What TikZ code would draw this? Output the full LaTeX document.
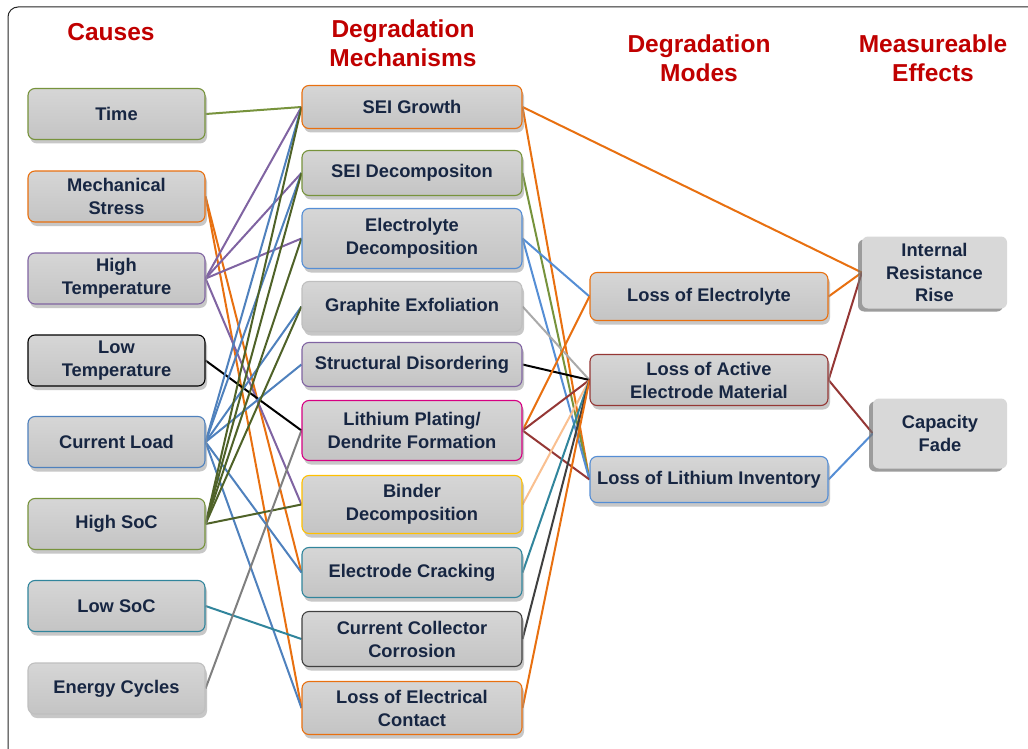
\documentclass[tikz,border=0pt]{standalone}
\usepackage{fontspec}
\setmainfont{Liberation Sans}
\usetikzlibrary{shadows}

\definecolor{txt}{RGB}{23,38,66}
\definecolor{hdr}{RGB}{192,0,0}
\definecolor{cgreen}{RGB}{119,147,60}
\definecolor{corange}{RGB}{232,112,16}
\definecolor{cpurple}{RGB}{128,100,162}
\definecolor{cblue}{RGB}{79,129,189}
\definecolor{cblueb}{RGB}{85,142,213}
\definecolor{colive}{RGB}{79,98,40}
\definecolor{cteal}{RGB}{49,133,156}
\definecolor{cgray}{RGB}{127,127,127}
\definecolor{clgray}{RGB}{170,170,170}
\definecolor{cmagenta}{RGB}{214,0,130}
\definecolor{cgold}{RGB}{255,192,0}
\definecolor{cdark}{RGB}{64,64,64}
\definecolor{cbrown}{RGB}{149,55,53}
\definecolor{cpeach}{RGB}{250,192,144}
\definecolor{boxtop}{RGB}{214,214,214}
\definecolor{boxbot}{RGB}{196,196,196}
\definecolor{effgray}{RGB}{216,216,216}

\pgfdeclarelayer{paper}
\pgfdeclarelayer{background}
\pgfsetlayers{paper,background,main}

\tikzset{
  box/.style={rounded corners=7pt, draw, line width=1.1pt,
    top color=boxtop, bottom color=boxbot,
    drop shadow={shadow xshift=2pt, shadow yshift=-4pt, fill=black!40, opacity=0.55},
    font=\bfseries\fontsize{18.3}{23}\selectfont, text=txt, align=center, inner sep=0pt},
  causebox/.style={box, minimum width=177pt, minimum height=51pt},
  mechbox/.style={box, minimum width=220pt},
  modebox/.style={box, minimum width=238pt},
  effbox/.style={rounded corners=6pt, fill=effgray,
    drop shadow={shadow xshift=-4pt, shadow yshift=-3pt, fill=black!55, opacity=0.7},
    font=\bfseries\fontsize{18.3}{22.5}\selectfont, text=txt, align=center, inner sep=0pt},
  header/.style={font=\bfseries\fontsize{24.5}{29}\selectfont, text=hdr, align=center},
  conn/.style={line width=2pt},
}

\begin{document}
\begin{tikzpicture}[x=1pt, y=-1pt]
\useasboundingbox (0,0) rectangle (1028,749);
\begin{pgfonlayer}{paper}
\fill[white] (0,0) rectangle (1028,749);
\end{pgfonlayer}
\begin{scope}
\clip (0,0) rectangle (1028,749);
\draw[line width=1pt, black!85, rounded corners=10pt] (8,7) rectangle (1050,770);
\end{scope}

% column headings
\node[header] (hcause) at (111,32) {Causes};
\node[header] (hmech) at (403,43) {Degradation\\Mechanisms};
\node[header] (hmode) at (699,58) {Degradation\\Modes};
\node[header] (heff) at (933,58) {Measureable\\Effects};

% causes
\node[causebox, draw=cgreen] (time) at (116.5,114) {Time};
\node[causebox, draw=corange] (mech) at (116.5,196.5) {Mechanical\\Stress};
\node[causebox, draw=cpurple] (htemp) at (116.5,278.5) {High\\Temperature};
\node[causebox, draw=black] (ltemp) at (116.5,360.5) {Low\\Temperature};
\node[causebox, draw=cblue] (cload) at (116.5,442) {Current Load};
\node[causebox, draw=cgreen] (hsoc) at (116.5,524) {High SoC};
\node[causebox, draw=cteal] (lsoc) at (116.5,606) {Low SoC};
\node[causebox, draw=black!25] (ecyc) at (116.5,688.5) {Energy Cycles};

% degradation mechanisms
\node[mechbox, draw=corange, minimum height=43pt] (sei) at (412,107) {SEI Growth};
\node[mechbox, draw=cgreen, minimum height=45pt] (seid) at (412,173) {SEI Decompositon};
\node[mechbox, draw=cblueb, minimum height=60pt] (elec) at (412,238.5) {Electrolyte\\Decomposition};
\node[mechbox, draw=black!25, minimum height=50pt] (graph) at (412,306.5) {Graphite Exfoliation};
\node[mechbox, draw=cpurple, minimum height=44pt] (struct) at (412,364.5) {Structural Disordering};
\node[mechbox, draw=cmagenta, minimum height=60pt] (plat) at (412,430.5) {Lithium Plating/\\Dendrite Formation};
\node[mechbox, draw=cgold, minimum height=58pt] (binder) at (412,504.5) {Binder\\Decomposition};
\node[mechbox, draw=cteal, minimum height=50pt] (crack) at (412,572.5) {Electrode Cracking};
\node[mechbox, draw=cdark, minimum height=55pt] (ccc) at (412,639) {Current Collector\\Corrosion};
\node[mechbox, draw=corange, minimum height=53pt] (lec) at (412,708) {Loss of Electrical\\Contact};

% degradation modes
\node[modebox, draw=corange, minimum height=48pt] (loe) at (709,296.5) {Loss of Electrolyte};
\node[modebox, draw=cbrown, minimum height=51pt] (lam) at (709,380) {Loss of Active\\Electrode Material};
\node[modebox, draw=cblueb, minimum height=46pt] (lli) at (709,479.5) {Loss of Lithium Inventory};

% measurable effects
\node[effbox, minimum width=145pt, minimum height=72pt] (irr) at (934.5,272.5) {Internal\\Resistance\\Rise};
\node[effbox, minimum width=134pt, minimum height=70pt] (cf) at (940,433.5) {Capacity\\Fade};

\begin{pgfonlayer}{background}
% causes -> mechanisms
\draw[conn, cgreen] (time.east) -- (sei.west);
\draw[conn, corange] (mech.east) -- (crack.west);
\draw[conn, corange] (mech.east) -- (lec.west);
\foreach \m in {sei, seid, elec, binder}
  \draw[conn, cpurple] (htemp.east) -- (\m.west);
\draw[conn, black] (ltemp.east) -- (plat.west);
\foreach \m in {sei, seid, graph, struct, crack, lec}
  \draw[conn, cblue] (cload.east) -- (\m.west);
\foreach \m in {sei, seid, elec, graph, binder}
  \draw[conn, colive] (hsoc.east) -- (\m.west);
\draw[conn, cteal] (lsoc.east) -- (ccc.west);
\draw[conn, cgray] (ecyc.east) -- (plat.west);

% mechanisms -> modes
\draw[conn, corange] (sei.east) -- (irr.west);
\draw[conn, corange] (sei.east) -- (lli.west);
\draw[conn, cgreen] (seid.east) -- (lli.west);
\draw[conn, cblueb] (elec.east) -- (loe.west);
\draw[conn, cblueb] (elec.east) -- (lli.west);
\draw[conn, clgray] (graph.east) -- (lam.west);
\draw[conn, black] (struct.east) -- (lam.west);
\draw[conn, corange] (plat.east) -- (loe.west);
\draw[conn, cbrown] (plat.east) -- (lam.west);
\draw[conn, cbrown] (plat.east) -- (lli.west);
\draw[conn, cpeach] (binder.east) -- (lam.west);
\draw[conn, cteal] (crack.east) -- (lam.west);
\draw[conn, cdark] (ccc.east) -- (lam.west);
\draw[conn, corange] (lec.east) -- (lam.west);

% modes -> effects
\draw[conn, corange] (loe.east) -- (irr.west);
\draw[conn, cbrown] (lam.east) -- (irr.west);
\draw[conn, cbrown] (lam.east) -- (cf.west);
\draw[conn, cblueb] (lli.east) -- (cf.west);
\end{pgfonlayer}
\end{tikzpicture}
\end{document}
